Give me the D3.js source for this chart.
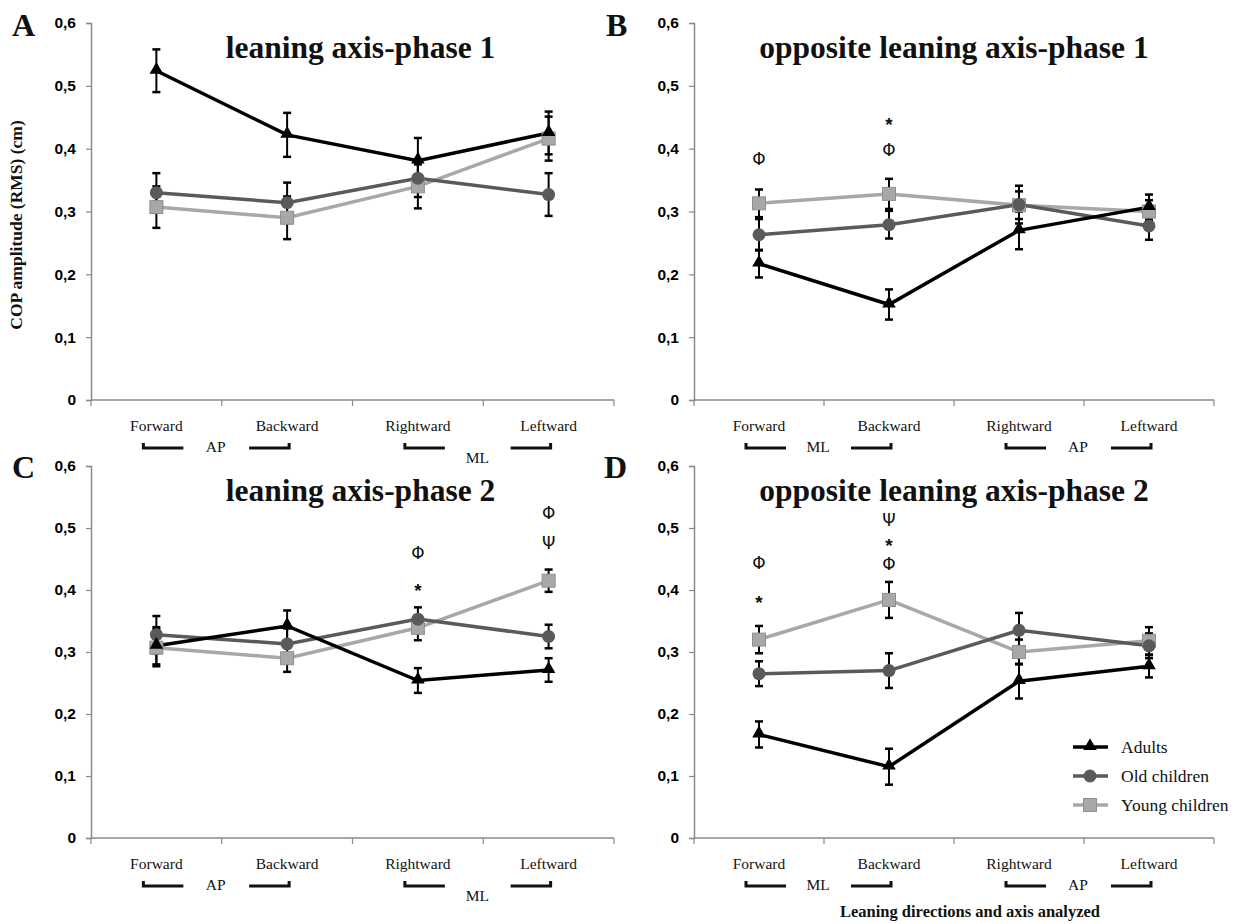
<!DOCTYPE html>
<html>
<head>
<meta charset="utf-8">
<script src="https://cdn.jsdelivr.net/npm/d3@7"></script>
<style>
  body { margin: 0; background: #fff; }
  svg text { font-family: "Liberation Serif", "Times New Roman", serif; }
</style>
</head>
<body>
<div id="chart"></div>
<script>
// categories / groups
const categories = ["Forward", "Backward", "Rightward", "Leftward"];
const groups = ["Adults", "Old children", "Young children"];
const yTickValues = [0, 0.1, 0.2, 0.3, 0.4, 0.5, 0.6];

// A - leaning axis phase 1
const adultsA = [0.524, 0.422, 0.381, 0.425];
const adultsA_se = [0.034, 0.035, 0.036, 0.034];
const oldA = [0.330, 0.314, 0.353, 0.327];
const oldA_se = [0.031, 0.032, 0.030, 0.034];
const youngA = [0.307, 0.290, 0.340, 0.416];
const youngA_se = [0.033, 0.034, 0.035, 0.035];

// B - opposite leaning axis phase 1
const adultsB = [0.217, 0.152, 0.270, 0.307];
const adultsB_se = [0.022, 0.024, 0.030, 0.020];
const oldB = [0.263, 0.279, 0.311, 0.277];
const oldB_se = [0.025, 0.022, 0.030, 0.022];
const youngB = [0.313, 0.328, 0.310, 0.300];
const youngB_se = [0.022, 0.024, 0.022, 0.018];

// C - leaning axis phase 2
const adultsC = [0.310, 0.342, 0.254, 0.271];
const adultsC_se = [0.030, 0.025, 0.020, 0.019];
const oldC = [0.328, 0.313, 0.353, 0.325];
const oldC_se = [0.030, 0.025, 0.019, 0.019];
const youngC = [0.307, 0.290, 0.339, 0.415];
const youngC_se = [0.030, 0.022, 0.020, 0.018];

// D - opposite leaning axis phase 2
const adultsD = [0.167, 0.115, 0.253, 0.277];
const adultsD_se = [0.021, 0.029, 0.028, 0.018];
const oldD = [0.265, 0.270, 0.335, 0.310];
const oldD_se = [0.020, 0.028, 0.028, 0.020];
const youngD = [0.320, 0.384, 0.300, 0.318];
const youngD_se = [0.022, 0.029, 0.020, 0.022];

// significance symbols (category, symbol, value level)
const sigA = [];
const sigB = [["Forward", "Φ", 0.384], ["Backward", "*", 0.447], ["Backward", "Φ", 0.397]];
const sigC = [["Rightward", "Φ", 0.460], ["Rightward", "*", 0.408], ["Leftward", "Φ", 0.524], ["Leftward", "Ψ", 0.476]];
const sigD = [["Forward", "Φ", 0.444], ["Forward", "*", 0.388], ["Backward", "Ψ", 0.513], ["Backward", "*", 0.481], ["Backward", "Φ", 0.442]];

// axis analyzed under each pair of categories
const axesAC = ["AP", "ML"];
const axesBD = ["ML", "AP"];

const colors = ["#000000", "#5a5a5a", "#a8a8a8"];
const axisColor = "#8a8a8a";

const W = 1257, H = 924;
const svg = d3.select("#chart").append("svg").attr("width", W).attr("height", H);

const panels = [
  { letter: "A", title: "leaning axis-phase 1", x0: 91, x1: 614, yTop: 23, yBot: 400, lx: 12, ly: 36, tdx: 8,
    means: [adultsA, oldA, youngA], ses: [adultsA_se, oldA_se, youngA_se], sig: sigA, axes: axesAC, mlDrop: 11 },
  { letter: "B", title: "opposite leaning axis-phase 1", x0: 694, x1: 1214, yTop: 23, yBot: 400, lx: 606, ly: 36, tdx: 0,
    means: [adultsB, oldB, youngB], ses: [adultsB_se, oldB_se, youngB_se], sig: sigB, axes: axesBD, mlDrop: 0 },
  { letter: "C", title: "leaning axis-phase 2", x0: 91, x1: 614, yTop: 466, yBot: 838, lx: 12, ly: 478, tdx: 8,
    means: [adultsC, oldC, youngC], ses: [adultsC_se, oldC_se, youngC_se], sig: sigC, axes: axesAC, mlDrop: 11 },
  { letter: "D", title: "opposite leaning axis-phase 2", x0: 694, x1: 1214, yTop: 466, yBot: 838, lx: 604, ly: 478, tdx: 0,
    means: [adultsD, oldD, youngD], ses: [adultsD_se, oldD_se, youngD_se], sig: sigD, axes: axesBD, mlDrop: 0 }
];

function marker(g, i, x, y) {
  if (i === 0) {
    g.append("path").attr("d", d3.symbol(d3.symbolTriangle, 80)())
      .attr("transform", "translate(" + x + "," + (y - 1) + ")").attr("fill", colors[0]);
  } else if (i === 1) {
    g.append("circle").attr("cx", x).attr("cy", y).attr("r", 6.5).attr("fill", colors[1]);
  } else {
    g.append("rect").attr("x", x - 6.5).attr("y", y - 6.5).attr("width", 13).attr("height", 13)
      .attr("fill", colors[2]).attr("stroke", "#8f8f8f").attr("stroke-width", 1);
  }
}

panels.forEach((p) => {
  const g = svg.append("g");
  const x = d3.scaleBand().domain(categories).range([p.x0, p.x1]);
  const cx = (c) => x(c) + x.bandwidth() / 2;
  const y = d3.scaleLinear().domain([0, 0.6]).range([p.yBot, p.yTop]);

  // y axis
  const yAxis = g.append("g").attr("transform", "translate(" + p.x0 + ",0)")
    .call(d3.axisLeft(y).tickValues(yTickValues).tickSize(5).tickPadding(10)
      .tickFormat((d) => d === 0 ? "0" : d3.format(".1f")(d).replace(".", ",")));
  yAxis.select(".domain").attr("stroke", axisColor).attr("stroke-width", 1.5);
  yAxis.selectAll(".tick line").attr("stroke", axisColor).attr("stroke-width", 1.2);
  yAxis.selectAll(".tick text").attr("fill", "#000")
    .style("font-family", "'Liberation Sans', Arial, sans-serif")
    .style("font-weight", "bold").style("font-size", "15.5px");

  // x axis line + boundary ticks
  g.append("line").attr("x1", p.x0).attr("x2", p.x1).attr("y1", p.yBot).attr("y2", p.yBot)
    .attr("stroke", axisColor).attr("stroke-width", 1.5);
  const edges = categories.map((c) => x(c)).concat([p.x1]);
  g.selectAll(".xt").data(edges).enter().append("line")
    .attr("x1", (d) => d).attr("x2", (d) => d).attr("y1", p.yBot).attr("y2", p.yBot + 6)
    .attr("stroke", axisColor).attr("stroke-width", 1.2);

  // category labels
  g.selectAll(".cl").data(categories).enter().append("text")
    .attr("x", (d) => cx(d)).attr("y", p.yBot + 31).attr("text-anchor", "middle")
    .style("font-size", "15.5px").attr("fill", "#111").text((d) => d);

  // brackets grouping the pairs
  [[0, 1], [2, 3]].forEach((pair, k) => {
    const c0 = cx(categories[pair[0]]), c1 = cx(categories[pair[1]]);
    const by = p.yBot + 48;
    g.append("path").attr("d", "M" + (c0 - 13) + "," + (by - 5) + "V" + by + "H" + (c0 + 27))
      .attr("fill", "none").attr("stroke", "#111").attr("stroke-width", 3);
    g.append("path").attr("d", "M" + (c1 - 38) + "," + by + "H" + (c1 + 2) + "V" + (by - 5))
      .attr("fill", "none").attr("stroke", "#111").attr("stroke-width", 3);
    const lab = p.axes[k];
    g.append("text").attr("x", (c0 + c1) / 2 - 6)
      .attr("y", by + 4 + (lab === "ML" ? p.mlDrop : 0))
      .attr("text-anchor", "middle").style("font-size", "15.5px").attr("fill", "#111").text(lab);
  });

  // title and panel letter
  g.append("text").attr("x", (p.x0 + p.x1) / 2 + p.tdx).attr("y", p.yTop + 35)
    .attr("text-anchor", "middle").style("font-size", "31.5px").style("font-weight", "bold")
    .attr("fill", "#111").text(p.title);
  g.append("text").attr("x", p.lx).attr("y", p.ly)
    .style("font-size", "32px").style("font-weight", "bold").attr("fill", "#111").text(p.letter);

  // series lines (young first so adults sit on top)
  const line = d3.line().x((d, i) => cx(categories[i])).y((d) => y(d));
  [2, 1, 0].forEach((s) => {
    g.append("path").datum(p.means[s]).attr("d", line)
      .attr("fill", "none").attr("stroke", colors[s]).attr("stroke-width", 3.5);
  });

  // error bars
  [2, 1, 0].forEach((s) => {
    p.means[s].forEach((m, i) => {
      const xx = cx(categories[i]);
      const lo = y(m - p.ses[s][i]), hi = y(m + p.ses[s][i]);
      g.append("line").attr("x1", xx).attr("x2", xx).attr("y1", lo).attr("y2", hi)
        .attr("stroke", "#000").attr("stroke-width", 2);
      [lo, hi].forEach((yy) => {
        g.append("line").attr("x1", xx - 4).attr("x2", xx + 4).attr("y1", yy).attr("y2", yy)
          .attr("stroke", "#000").attr("stroke-width", 2.5);
      });
    });
  });

  // markers
  [2, 1, 0].forEach((s) => {
    p.means[s].forEach((m, i) => marker(g, s, cx(categories[i]), y(m)));
  });

  // significance symbols
  p.sig.forEach((d) => {
    const isStar = d[1] === "*";
    g.append("text").attr("x", cx(d[0])).attr("y", y(d[2]))
      .attr("dy", isStar ? "0.62em" : "0.34em")
      .attr("text-anchor", "middle")
      .style("font-family", isStar ? "'Liberation Sans', Arial, sans-serif" : "'DejaVu Sans', sans-serif")
      .style("font-size", isStar ? "19px" : "17px")
      .style("font-weight", isStar ? "bold" : "normal")
      .attr("fill", "#111").text(d[1]);
  });
});

// y axis title
svg.append("text").attr("transform", "translate(22,225)rotate(-90)")
  .attr("text-anchor", "middle").style("font-size", "17.5px").style("font-weight", "bold")
  .attr("fill", "#111").text("COP amplitude (RMS) (cm)");

// x axis title
svg.append("text").attr("x", 970).attr("y", 917).attr("text-anchor", "middle")
  .style("font-size", "16.5px").style("font-weight", "bold").attr("fill", "#111")
  .text("Leaning directions and axis analyzed");

// legend
const legend = svg.append("g");
groups.forEach((name, i) => {
  const ly = 747 + i * 29;
  legend.append("line").attr("x1", 1073).attr("x2", 1108).attr("y1", ly).attr("y2", ly)
    .attr("stroke", colors[i]).attr("stroke-width", 3.5);
  marker(legend, i, 1090, ly);
  legend.append("text").attr("x", 1121).attr("y", ly).attr("dy", "0.35em")
    .style("font-size", "17.5px").attr("fill", "#111").text(name);
});
</script>
</body>
</html>
